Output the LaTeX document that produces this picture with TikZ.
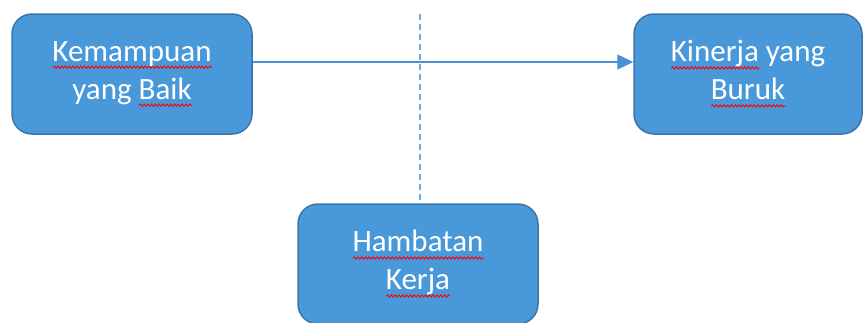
\documentclass[tikz,border=0pt]{standalone}
\usepackage{fontspec}
\setmainfont{Carlito}
\usetikzlibrary{arrows.meta,decorations.pathmorphing}
\newsavebox\wbox
\newlength\wlen
\newcommand\redwave[1]{\sbox\wbox{#1}\setlength\wlen{\wd\wbox}\leavevmode\rlap{\tikz[baseline=0pt,sharp corners,x=1pt,y=1pt]\draw[red,line width=0.9pt,sharp corners,decorate,decoration={snake,amplitude=1.1pt,segment length=3.8pt}] (0pt,-6pt) -- (\wlen,-6pt);}\usebox\wbox}
\definecolor{boxfill}{HTML}{4898DA}
\definecolor{boxline}{HTML}{3A74AC}
\definecolor{conn}{HTML}{4A90D9}
\definecolor{dashc}{HTML}{6AAEE6}
\begin{document}
\begin{tikzpicture}[x=1pt,y=-1pt,
  box/.style={draw=boxline, fill=boxfill, line width=1.5pt, rounded corners=20pt,
    minimum height=120pt, text=white, align=center,
    font=\fontsize{31}{38}\selectfont, inner sep=0pt},
  arrowline/.style={draw=conn, line width=1.4pt, -{Triangle[length=16pt,width=15pt]}},
  dashline/.style={draw=dashc, line width=1.4pt, dash pattern=on 6pt off 4pt}]
\useasboundingbox (0,0) rectangle (864,322);
\clip (0,0) rectangle (864,322);
\node[box, minimum width=240pt] (kb) at (132,74) {\redwave{Kemampuan}\\yang \redwave{Baik}};
\node[box, minimum width=228pt] (kr) at (748,74) {\redwave{Kinerja} yang\\\redwave{Buruk}};
\node[box, minimum width=240pt] (hk) at (418,264) {\redwave{Hambatan}\\\redwave{Kerja}};
\coordinate (dtop) at (420,14);
\draw[dashline] (dtop) -- (dtop |- hk.north);
\draw[arrowline] ([yshift=12pt]kb.east) -- ([yshift=12pt]kr.west);
\end{tikzpicture}
\end{document}
